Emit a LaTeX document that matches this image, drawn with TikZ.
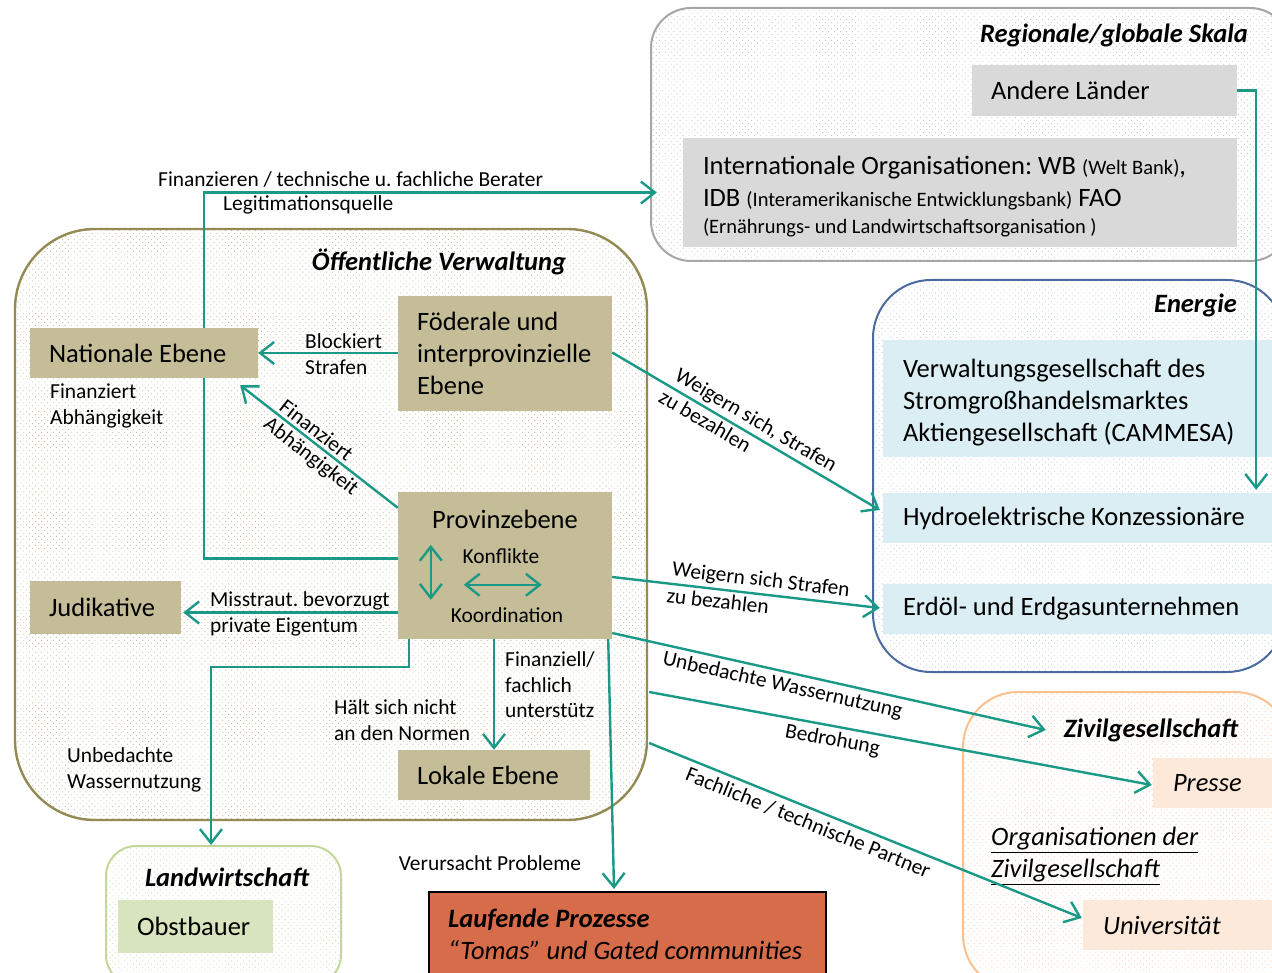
\documentclass[tikz,border=0pt]{standalone}
\usepackage{fontspec}
\setmainfont{Carlito}
\usetikzlibrary{arrows.meta,patterns.meta,calc}

\definecolor{teal1}{RGB}{26,154,134}
\definecolor{tanfill}{RGB}{196,189,151}
\definecolor{grayfill}{RGB}{217,217,217}
\definecolor{bluefill}{RGB}{218,238,243}
\definecolor{peachfill}{RGB}{253,233,217}
\definecolor{greenfill}{RGB}{215,228,189}
\definecolor{rustfill}{RGB}{214,108,74}
\definecolor{oliveline}{RGB}{148,138,84}
\definecolor{grayline}{RGB}{166,166,166}
\definecolor{blueline}{RGB}{74,106,160}
\definecolor{orangeline}{RGB}{250,192,144}
\definecolor{greenline}{RGB}{195,214,155}
\definecolor{olivedot}{RGB}{200,192,150}
\definecolor{graydot}{RGB}{200,200,200}
\definecolor{bluedot}{RGB}{195,208,225}
\definecolor{orangedot}{RGB}{250,205,170}
\definecolor{greendot}{RGB}{205,220,175}

\newcommand\fbig{\fontsize{26.5}{32}\selectfont\frenchspacing}
\newcommand\flbl{\fontsize{21.4}{26}\selectfont\frenchspacing}
\newcommand\fsml{\fontsize{20.5}{26}\selectfont}
\newcommand\fttl{\fontsize{26.5}{30}\selectfont\bfseries\itshape}

\tikzset{
  >={Straight Barb[length=14pt,width=22pt]},
  conn/.style={draw=teal1, line width=2.4pt},
  grp/.style={inner sep=0pt, line width=2pt},
  dotted area/.style={pattern={Dots[distance=4.2pt,radius=0.65pt,angle=45]}, pattern color=#1},
  grpolive/.style={grp, draw=oliveline, line width=2.4pt, dotted area=olivedot},
  grpgray/.style={grp, draw=grayline, dotted area=graydot},
  grpblue/.style={grp, draw=blueline, dotted area=bluedot},
  grporange/.style={grp, draw=orangeline, dotted area=orangedot},
  grpgreen/.style={grp, draw=greenline, dotted area=greendot},
  box/.style={inner ysep=0pt, inner xsep=19pt, align=flush left, font=\fbig},
  lbl/.style={font=\flbl, inner sep=1pt, align=flush left},
  ttl/.style={font=\fttl, inner sep=0pt},
}

\begin{document}
\begin{tikzpicture}[x=1pt, y=-1pt]
\useasboundingbox (0,0) rectangle (1272,973);
\clip (0,0) rectangle (1272,973);

% group containers
\node[grpgray, rounded corners=40pt, minimum width=639pt, minimum height=253pt] (reg) at (970.5,134.5) {};
\node[grpolive, rounded corners=80pt, minimum width=632pt, minimum height=591pt] (oeff) at (331,524.5) {};
\node[grpblue, rounded corners=58pt, minimum width=412pt, minimum height=392pt] (ener) at (1079,476) {};
\node[grporange, rounded corners=55pt, minimum width=327pt, minimum height=298pt] (ziv) at (1126.5,841) {};
\node[grpgreen, rounded corners=30pt, minimum width=235pt, minimum height=139pt] (land) at (223.5,915.5) {};

% group titles
\node[ttl, anchor=east] (regt) at (1248,35) {Regionale/globale Skala};
\node[ttl] (oefft) at (439,262) {Öffentliche Verwaltung};
\node[ttl, anchor=east] (enert) at (1237,305) {Energie};
\node[ttl] (zivt) at (1151,730) {Zivilgesellschaft};
\node[ttl] (landt) at (227,877) {Landwirtschaft};

% regional / global actors
\node[box, fill=grayfill, text width=227pt, minimum height=51pt] (andere) at (1104.5,90.5) {Andere Länder};
\node[box, fill=grayfill, inner xsep=20pt, text width=514pt, minimum height=109pt] (intl) at (960,192.5)
  {\rule{0pt}{26pt}Internationale Organisationen: WB {\fsml(Welt Bank)},\\
   IDB {\fsml(Interamerikanische Entwicklungsbank)} FAO\\[-5pt]
   {\fsml(Ernährungs- und Landwirtschaftsorganisation )}};

% public administration
\node[box, fill=tanfill, text width=190pt, minimum height=50pt] (nat) at (144,353) {Nationale Ebene};
\node[box, fill=tanfill, text width=176pt, minimum height=115pt] (foed) at (505,353.5) {Föderale und\\interprovinzielle\\Ebene};
\node[box, fill=tanfill, minimum width=214pt, minimum height=147pt] (prov) at (505,565.5) {};
\node[box, fill=tanfill, text width=113pt, minimum height=53pt] (jud) at (105.5,607.5) {Judikative};
\node[box, fill=tanfill, text width=154pt, minimum height=50pt] (lok) at (494,775) {Lokale Ebene};

\node[font=\fbig, inner sep=0pt] (provt) at (505,519) {Provinzebene};
\node[font=\flbl, inner sep=0pt] (konf) at (501,556) {Konflikte};
\node[font=\flbl, inner sep=0pt] (koord) at (507,615) {Koordination};
\coordinate (vtop) at ($(prov.north west)+(33,53)$);
\coordinate (vbot) at ($(prov.north west)+(33,108)$);
\coordinate (hlft) at ($(prov.north west)+(66,93)$);
\coordinate (hrgt) at ($(prov.north west)+(144,93)$);
\draw[conn, <->] (vtop) -- (vbot);
\draw[conn, <->] (hlft) -- (hrgt);

% energy sector
\node[box, fill=bluefill, inner xsep=20pt, text width=357pt, minimum height=117pt] (cam) at (1081.5,398.5)
  {\rule{0pt}{26pt}Verwaltungsgesellschaft des\\Stromgroßhandelsmarktes\\Aktiengesellschaft (CAMMESA)};
\node[box, fill=bluefill, inner xsep=20pt, text width=357pt, minimum height=50pt] (hyd) at (1081.5,518) {Hydroelektrische Konzessionäre};
\node[box, fill=bluefill, inner xsep=20pt, text width=357pt, minimum height=50pt] (erd) at (1081.5,609) {Erdöl- und Erdgasunternehmen};

% civil society
\node[box, fill=peachfill, inner xsep=20pt, text width=87pt, minimum height=50pt, font=\fbig\itshape] (presse) at (1216.5,783) {Presse};
\node[box, fill=peachfill, inner xsep=20pt, text width=157pt, minimum height=50pt, font=\fbig\itshape] (uni) at (1181.5,925) {Universität};
\node[anchor=west, align=flush left, inner sep=0pt, font=\fbig\itshape] (orgz) at (991,856)
  {\underline{Organisationen der}\\\underline{Zivilgesellschaft}};

% agriculture
\node[box, fill=greenfill, text width=117pt, minimum height=53pt] (obst) at (195.5,926.5) {Obstbauer};

% ongoing processes
\node[draw=black, line width=2pt, fill=rustfill, minimum width=397pt, minimum height=108pt, inner sep=0pt] (lauf) at (627.5,946) {};
\node[anchor=west, align=flush left, inner sep=0pt, font=\fbig\itshape] (lauft) at (448,934)
  {\textbf{Laufende Prozesse}\\“Tomas” und Gated communities};

% connectors
\draw[conn, ->] ($(nat.north)+(60,0)$) |- ($(intl.west)+(-26,0)$);
\draw[conn] ($(prov.west)+(0,-7)$) -| ($(nat.south)+(60,0)$);
\draw[conn, ->] (foed.west |- nat.east) -- (nat.east);
\draw[conn, ->] ($(prov.north west)+(0,16)$) -- ($(nat.south east)+(-18,7)$)
  node[pos=0.56, sloped, above, font=\flbl, inner sep=3pt] (finz1) {Finanziert}
  node[pos=0.50, sloped, below, font=\flbl, inner sep=3pt] (abh1) {Abhängigkeit};
\draw[conn, ->] ($(prov.west)+(0,47)$) -- ($(jud.east)+(2,5)$);
\draw[conn, ->] ($(prov.south west)+(11,0)$) -- ++(0,28) -| ($(land.north)+(-12.5,0)$);
\draw[conn, ->] (lok.north |- prov.south) -- (lok.north);
\draw[conn, ->] ($(prov.south east)+(-4,0)$) -- ($(lauf.north)+(-13.5,-2)$);
\draw[conn, ->] ($(foed.east)+(0,-1)$) -- ($(hyd.west)+(-3,-8)$)
  node[pos=0.51, sloped, above, font=\flbl, inner sep=3pt] (weig1) {Weigern sich, Strafen}
  node[pos=0.37, sloped, below, font=\flbl, inner sep=3pt] (zub1) {zu bezahlen};
\draw[conn, ->] ($(prov.east)+(0,11.5)$) -- ($(erd.west)+(-3,-1)$)
  node[pos=0.55, sloped, above, font=\flbl, inner sep=3pt] (weig2) {Weigern sich Strafen}
  node[pos=0.40, sloped, below, font=\flbl, inner sep=3pt] (zub2) {zu bezahlen};
\draw[conn, ->] ($(prov.east)+(0,67.5)$) -- ($(zivt.west)+(-18,0)$)
  node[pos=0.40, sloped, below, font=\flbl, inner sep=4pt] (unb2) {Unbedachte Wassernutzung};
\draw[conn, ->] ($(oeff.east)+(1,167.5)$) -- ($(presse.west)+(-1,2)$)
  node[pos=0.37, sloped, below, font=\flbl, inner sep=4pt] (bedr) {Bedrohung};
\draw[conn, ->] ($(oeff.east)+(1,218.5)$) -- ($(uni.west)+(-1,-7)$)
  node[pos=0.38, sloped, below, font=\flbl, inner sep=5pt] (fach) {Fachliche / technische Partner};
\draw[conn, ->] (andere.east) -| ($(hyd.north east)+(-24,-3)$);

% free-standing connector labels
\node[lbl, anchor=west] (fintop) at (157,180) {Finanzieren / technische u. fachliche Berater};
\node[lbl, anchor=west] (legit) at (222,205) {Legitimationsquelle};
\node[lbl, anchor=west] (finnat) at (49,406) {Finanziert\\Abhängigkeit};
\node[lbl, anchor=west] (blk) at (304,354) {Blockiert\\Strafen};
\node[lbl, anchor=west] (miss) at (209,614) {Misstraut. bevorzugt\\private Eigentum};
\node[lbl, anchor=west] (unb1) at (66,770) {Unbedachte\\Wassernutzung};
\node[lbl, anchor=west] (halt) at (333,720) {Hält sich nicht\\an den Normen};
\node[lbl, anchor=west, font=\fontsize{21.4}{25.5}\selectfont] (finlok) at (504,685) {Finanziell/\\fachlich\\unterstütz};
\node[lbl] (verur) at (490,863) {Verursacht Probleme};
\end{tikzpicture}
\end{document}
